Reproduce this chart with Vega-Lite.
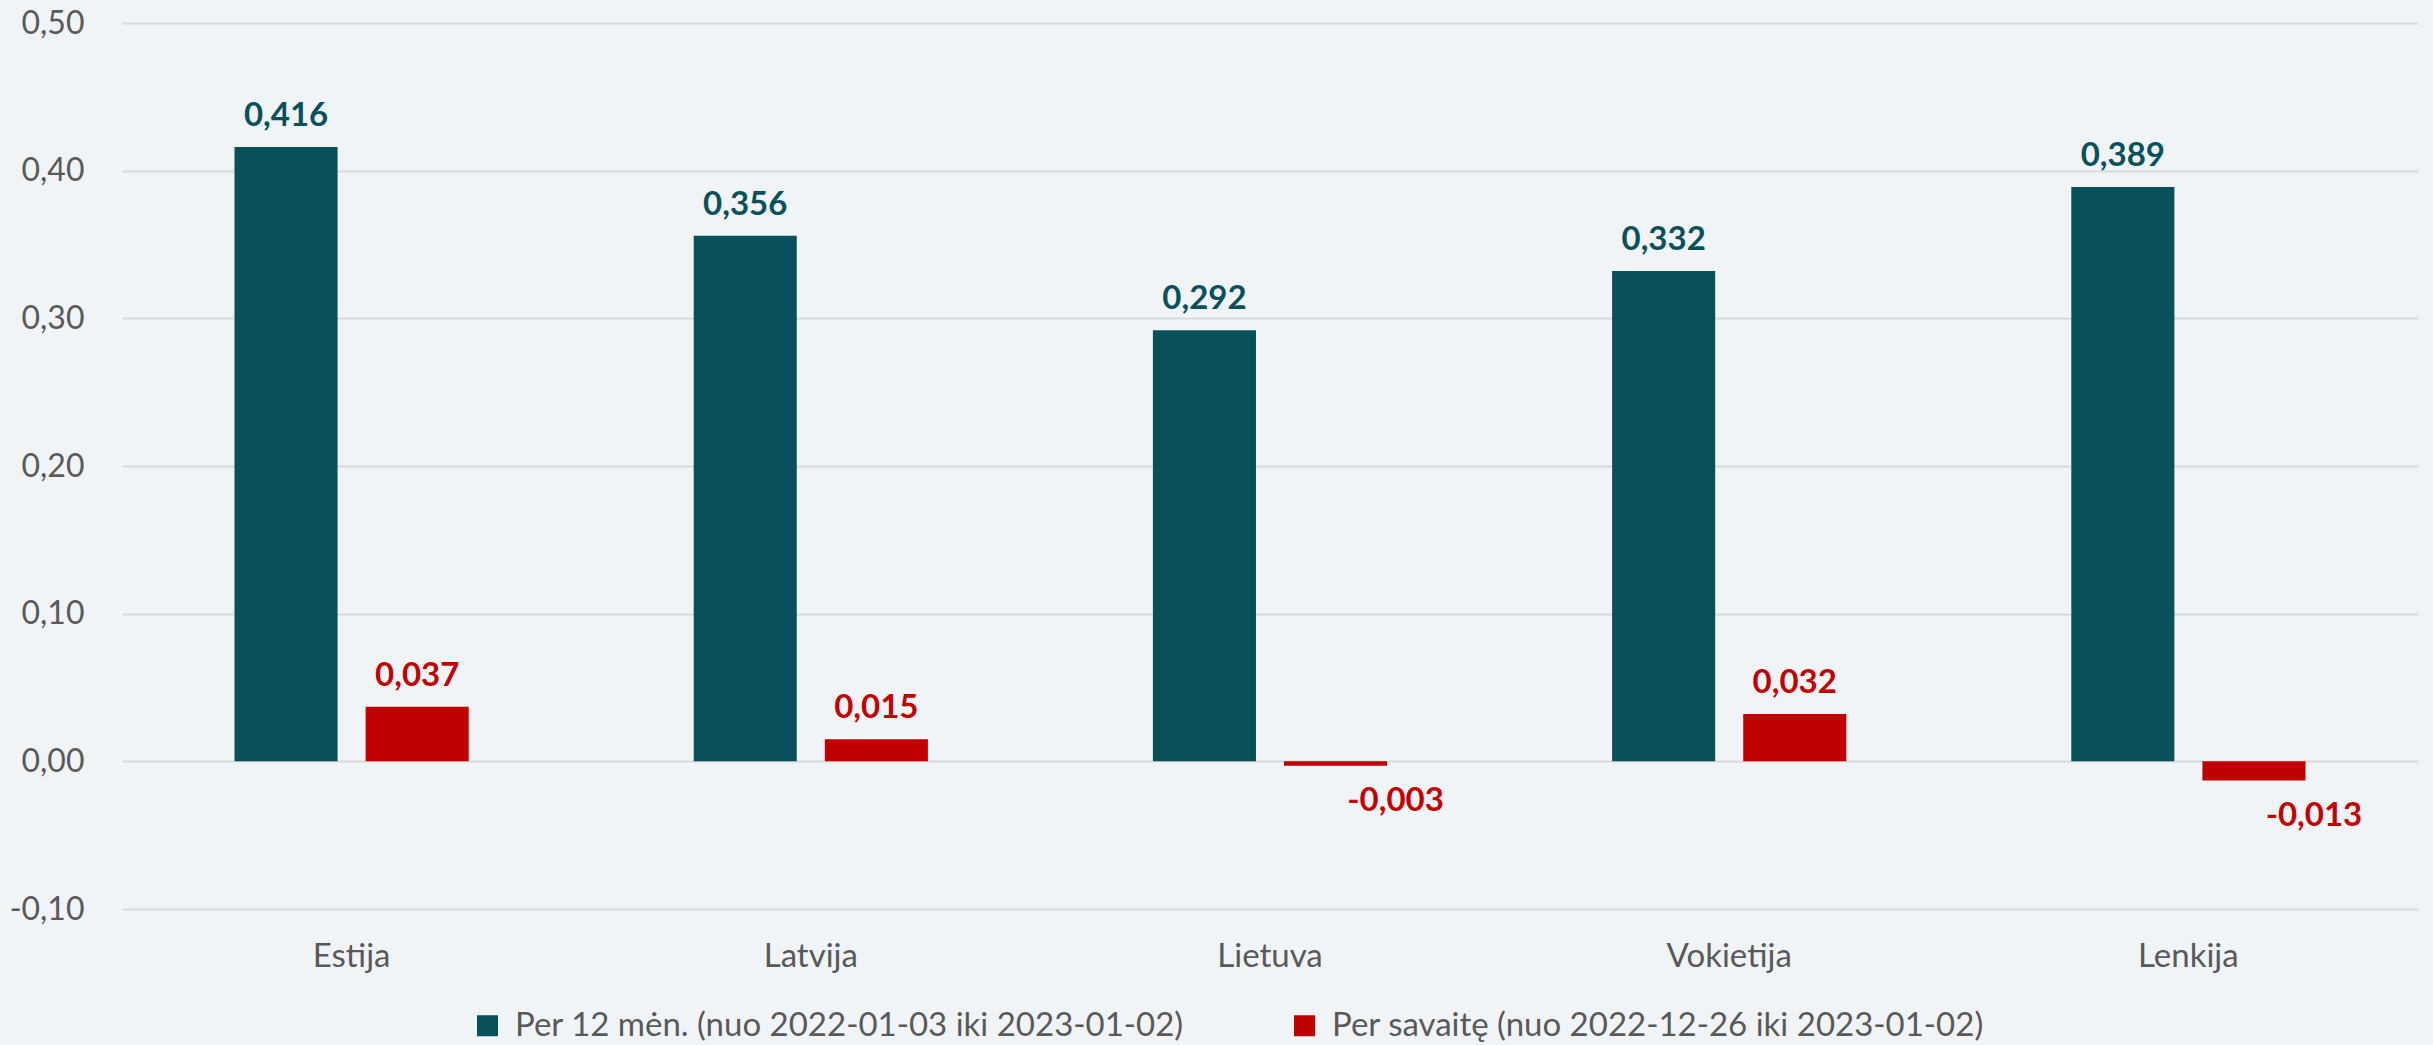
{
  "$schema": "https://vega.github.io/schema/vega-lite/v6.json",
  "width": 2296,
  "height": 886,
  "autosize": {"type": "none"},
  "padding": {"left": 122, "top": 23, "right": 15, "bottom": 136},
  "background": "#F0F4F7",
  "config": {
    "view": {"stroke": null},
    "font": "Lato",
    "locale": {"number": {"decimal": ",", "thousands": " ", "grouping": [3], "currency": ["", " €"], "minus": "-"}}
  },
  "data": {
    "values": [
      {"country": "Estija", "series": "Per 12 mėn. (nuo 2022-01-03 iki 2023-01-02)", "value": 0.416},
      {"country": "Estija", "series": "Per savaitę (nuo 2022-12-26 iki 2023-01-02)", "value": 0.037},
      {"country": "Latvija", "series": "Per 12 mėn. (nuo 2022-01-03 iki 2023-01-02)", "value": 0.356},
      {"country": "Latvija", "series": "Per savaitę (nuo 2022-12-26 iki 2023-01-02)", "value": 0.015},
      {"country": "Lietuva", "series": "Per 12 mėn. (nuo 2022-01-03 iki 2023-01-02)", "value": 0.292},
      {"country": "Lietuva", "series": "Per savaitę (nuo 2022-12-26 iki 2023-01-02)", "value": -0.003},
      {"country": "Vokietija", "series": "Per 12 mėn. (nuo 2022-01-03 iki 2023-01-02)", "value": 0.332},
      {"country": "Vokietija", "series": "Per savaitę (nuo 2022-12-26 iki 2023-01-02)", "value": 0.032},
      {"country": "Lenkija", "series": "Per 12 mėn. (nuo 2022-01-03 iki 2023-01-02)", "value": 0.389},
      {"country": "Lenkija", "series": "Per savaitę (nuo 2022-12-26 iki 2023-01-02)", "value": -0.013}
    ]
  },
  "encoding": {
    "x": {
      "field": "country",
      "type": "nominal",
      "sort": ["Estija", "Latvija", "Lietuva", "Vokietija", "Lenkija"],
      "scale": {"paddingInner": 0.49, "paddingOuter": 0.245},
      "axis": {"title": null, "domain": false, "ticks": false, "grid": false, "labelAngle": 0, "labelFontSize": 33, "labelColor": "#595959", "labelPadding": 31, "labelFont": "Lato"}
    },
    "xOffset": {
      "field": "series",
      "type": "nominal",
      "sort": ["Per 12 mėn. (nuo 2022-01-03 iki 2023-01-02)", "Per savaitę (nuo 2022-12-26 iki 2023-01-02)"],
      "scale": {"paddingInner": 0.214, "paddingOuter": 0}
    },
    "y": {
      "field": "value",
      "type": "quantitative",
      "scale": {"domain": [-0.1, 0.5], "nice": false, "zero": true},
      "axis": {"title": null, "values": [-0.1, 0, 0.1, 0.2, 0.3, 0.4, 0.5], "format": ".2f", "domain": false, "ticks": false, "grid": true, "gridColor": "#D9D9D9", "gridWidth": 2, "labelFontSize": 32, "labelColor": "#595959", "labelPadding": 38, "labelFont": "Lato"}
    }
  },
  "layer": [
    {
      "mark": {"type": "bar"},
      "encoding": {
        "color": {
          "field": "series",
          "type": "nominal",
          "scale": {"domain": ["Per 12 mėn. (nuo 2022-01-03 iki 2023-01-02)", "Per savaitę (nuo 2022-12-26 iki 2023-01-02)"], "range": ["#08505A", "#C00000"]},
          "legend": {
            "title": null,
            "orient": "none",
            "legendX": 349,
            "legendY": 986,
            "direction": "horizontal",
            "symbolType": "square",
            "symbolSize": 441,
            "symbolStrokeWidth": 0,
            "labelFontSize": 33,
            "labelColor": "#595959",
            "labelFont": "Lato",
            "labelOffset": 11,
            "labelLimit": 0,
            "columnPadding": 104
          }
        }
      }
    },
    {
      "transform": [{"filter": "datum.value >= 0"}],
      "mark": {"type": "text", "dy": -21, "baseline": "alphabetic", "fontWeight": "bold", "fontSize": 33, "font": "Lato"},
      "encoding": {
        "text": {"field": "value", "type": "quantitative", "format": ".3f"},
        "color": {"field": "series", "type": "nominal", "legend": null}
      }
    },
    {
      "transform": [{"filter": "datum.value < 0"}],
      "mark": {"type": "text", "dy": 45, "dx": 60, "baseline": "alphabetic", "fontWeight": "bold", "fontSize": 33, "font": "Lato"},
      "encoding": {
        "text": {"field": "value", "type": "quantitative", "format": ".3f"},
        "color": {"field": "series", "type": "nominal", "legend": null}
      }
    }
  ]
}
